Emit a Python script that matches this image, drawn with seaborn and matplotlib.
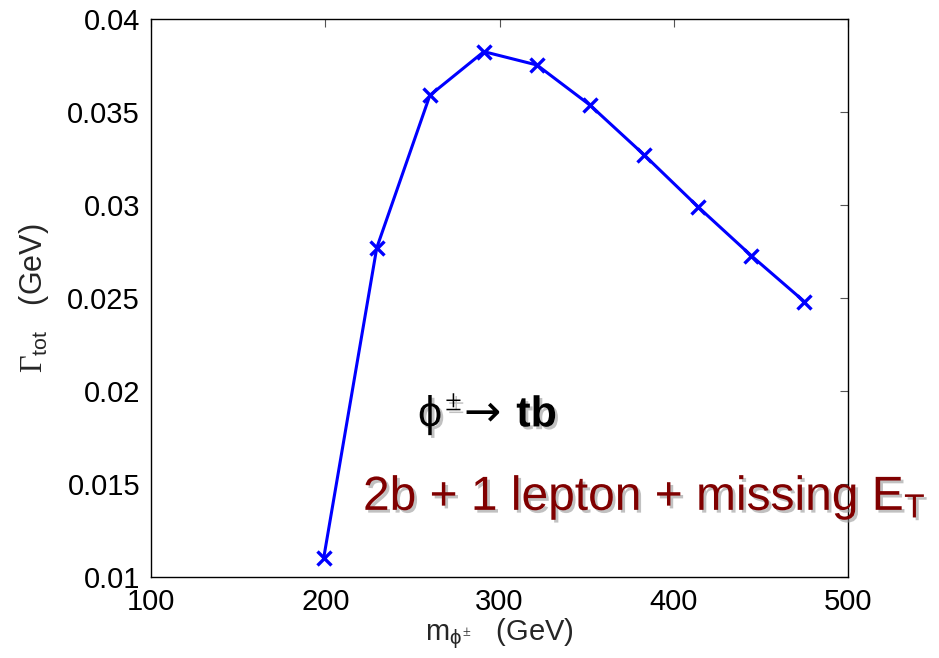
import numpy as np
import matplotlib
matplotlib.use('Agg')
import matplotlib.pyplot as plt
import matplotlib.patheffects as pe
import seaborn as sns
import pandas as pd

# charged scalar mass (GeV) and total width (GeV)
mass = [199, 229.5, 260, 291, 321.5, 352, 383, 414, 444.5, 475]
width = [0.0110, 0.0277, 0.0359, 0.03825, 0.03753, 0.03537, 0.0327, 0.0299, 0.02728, 0.02481]

xticks = [100, 200, 300, 400, 500]
yticks = [0.01, 0.015, 0.02, 0.025, 0.03, 0.035, 0.04]
ytick_labels = ['0.01', '0.015', '0.02', '0.025', '0.03', '0.035', '0.04']

sns.set_theme(style='white')
plt.rcParams['font.family'] = ['Liberation Sans', 'DejaVu Sans']
plt.rcParams['mathtext.fontset'] = 'custom'
plt.rcParams['mathtext.rm'] = 'Liberation Serif'
plt.rcParams['mathtext.sf'] = 'Liberation Sans'
plt.rcParams['mathtext.it'] = 'Liberation Sans'
plt.rcParams['mathtext.bf'] = 'Liberation Sans:bold'

df = pd.DataFrame({'mass': mass, 'width': width})

fig = plt.figure(figsize=(9.39, 6.58), dpi=100)
ax = fig.add_axes([0.161, 0.123, 0.742, 0.848])

sns.lineplot(data=df, x='mass', y='width', ax=ax, color='#0000ff', linewidth=2.2,
             marker='x', markersize=10, markeredgewidth=2.4, markeredgecolor='#0000ff')

ax.set_xlim(100, 500)
ax.set_ylim(0.01, 0.04)
ax.set_xticks(xticks)
ax.set_xticklabels([str(t) for t in xticks])
ax.set_yticks(yticks)
ax.set_yticklabels(ytick_labels)
ax.tick_params(direction='in', top=True, right=True, length=6, width=0.8,
               color='#555555', labelsize=21, labelcolor='black', pad=8)
for s in ax.spines.values():
    s.set_color('black')
    s.set_linewidth(1.0)

ax.set_xlabel(r'$\mathsf{m}_{\phi^{\pm}}$   (GeV)', fontsize=21, labelpad=0)
ax.set_ylabel(r'$\Gamma_{\mathsf{tot}}$   (GeV)', fontsize=22, labelpad=12)

# decay channel annotation, built from three pieces so the arrow can be larger
shadow = [pe.withSimplePatchShadow(offset=(2, -2), shadow_rgbFace='#999999', alpha=0.6)]
ax.text(0.383, 0.27, r'$\phi^{\pm}$', transform=ax.transAxes,
        fontsize=31, color='black', ha='left', va='baseline', path_effects=shadow)
ax.text(0.448, 0.272, '→', transform=ax.transAxes, family='DejaVu Sans',
        fontsize=32, color='black', ha='left', va='baseline')
ax.text(0.524, 0.27, 'tb', transform=ax.transAxes, fontweight='bold',
        fontsize=31, color='black', ha='left', va='baseline', path_effects=shadow)
ax.text(0.304, 0.12, r'2b + 1 lepton + missing E$_{\mathsf{T}}$', transform=ax.transAxes,
        fontsize=34.5, color='#800000', ha='left', va='baseline', path_effects=shadow)

fig.savefig('out.png', dpi=100)
